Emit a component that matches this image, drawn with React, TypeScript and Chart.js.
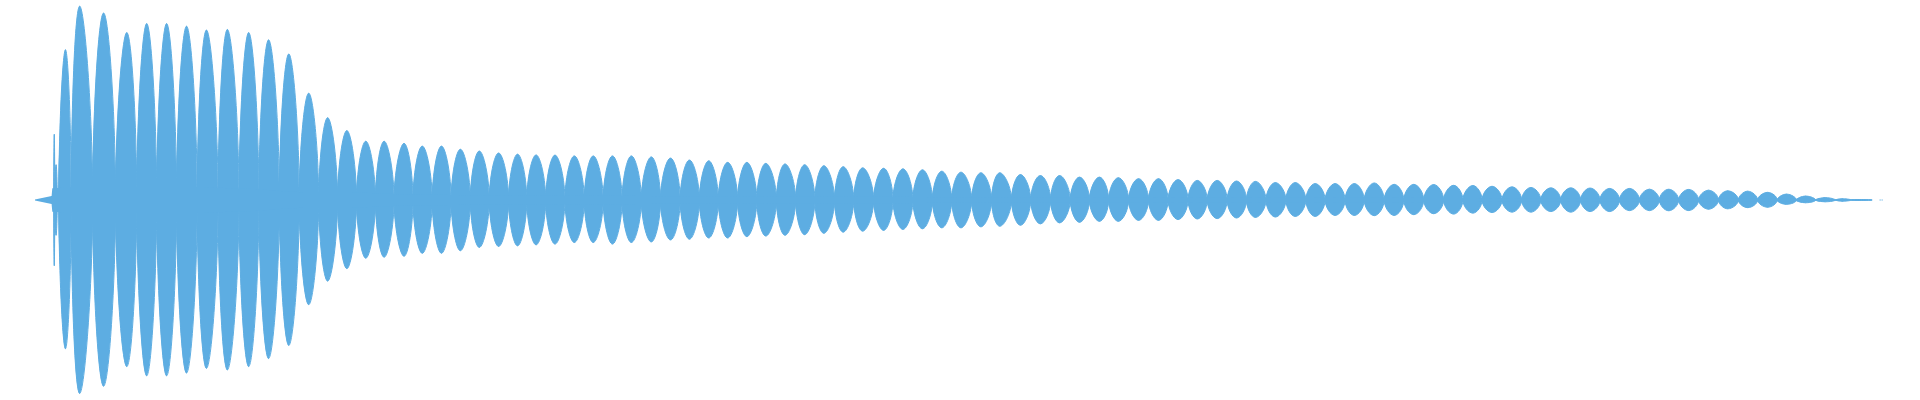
import React, { useEffect, useRef } from "react";
import { Chart, registerables } from "chart.js";

Chart.register(...registerables);

const COLOR = "#5DADE2";

// Thin central band (the waveform's thickness between lobes)
const bandX = [31, 47.8, 48.5, 60, 200, 256, 280, 300, 350, 392, 450, 640, 850, 1050, 1250, 1450, 1650, 1800, 1840, 1876];
const bandHalf = [0.003, 0.02, 0.06, 0.065, 0.065, 0.055, 0.045, 0.04, 0.04, 0.03, 0.025, 0.02, 0.016, 0.013, 0.011, 0.01, 0.009, 0.006, 0.004, 0.002];

// Lobe edges (zero crossings of the envelope) along the time axis
const edgeX = [
  50, 51, 53.5, 55,
  67.5, 89, 112, 133.3, 153.3, 173.3, 194, 215, 236, 256,
  276.5, 296.5, 316, 335, 354, 373, 391.7, 410.7, 430, 449,
  468.3, 487.3, 506.7, 525, 544, 563.3, 582.7, 601.7, 620.7, 640,
  659.3, 679, 698.3, 717.3, 736.7, 756, 775.7, 795, 814.3, 834,
  853.3, 873.3, 892.7, 912.7, 932.3, 951.7, 971.7, 991.7, 1011.7, 1031,
  1051, 1070.7, 1090, 1109.3, 1129.3, 1149.3, 1169, 1189, 1208.3, 1228.3,
  1247.7, 1267.3, 1287.3, 1307.3, 1326.7, 1346.7, 1366, 1386, 1405.7, 1425.7,
  1445.7, 1465, 1484.3, 1504.3, 1524, 1543.3, 1563.3, 1583.3, 1602.7, 1622.3,
  1642.3, 1662.3, 1681.7, 1701.7, 1721.7, 1741.7, 1761, 1780.7, 1800, 1819.3,
  1839, 1855, 1876,
];

// Each lobe: position of its peak, upper peak value and lower peak magnitude
const peakX = [
  50.5, 52.3, 54.2,
  61.7, 76, 100, 123.3, 143.3, 163.3, 183.3, 203.3, 224.3, 245.7,
  265.7, 286, 306, 325, 344.3, 363.3, 381.7, 401.7, 420, 439.3,
  458.3, 477.3, 496.7, 515.7, 534.3, 553.3, 572.7, 591.7, 611, 630,
  650, 669.3, 688.3, 707.7, 726.7, 746, 765, 784.3, 804, 823.3,
  842.7, 862.3, 883.3, 902.7, 922.3, 941.7, 961, 981, 1000, 1020.7,
  1040.7, 1060, 1080, 1100, 1119, 1139.3, 1159.3, 1179, 1198.3, 1218.3,
  1237.7, 1256.7, 1276.7, 1296.7, 1316.7, 1336.7, 1356, 1376, 1396, 1415.7,
  1435.7, 1455.7, 1475, 1494.3, 1514.3, 1533.3, 1553.3, 1573.3, 1592.7, 1612.3,
  1632.3, 1652.3, 1671.7, 1691.7, 1711.7, 1731, 1751, 1771, 1790, 1809.3,
  1829.3, 1847, 1865,
];

const peakUp = [
  0.335, 0.18, 0.06,
  0.767, 0.989, 0.954, 0.854, 0.9, 0.9, 0.887, 0.867, 0.87, 0.854,
  0.817, 0.745, 0.545, 0.42, 0.354, 0.3, 0.3, 0.289, 0.275, 0.275,
  0.259, 0.25, 0.24, 0.234, 0.23, 0.229, 0.225, 0.225, 0.225, 0.225,
  0.22, 0.214, 0.204, 0.2, 0.192, 0.192, 0.187, 0.184, 0.18, 0.175,
  0.17, 0.164, 0.162, 0.159, 0.154, 0.147, 0.142, 0.139, 0.139, 0.13,
  0.125, 0.125, 0.117, 0.117, 0.114, 0.109, 0.109, 0.104, 0.1, 0.1,
  0.097, 0.095, 0.089, 0.089, 0.084, 0.084, 0.084, 0.087, 0.08, 0.08,
  0.079, 0.075, 0.074, 0.07, 0.067, 0.064, 0.062, 0.062, 0.061, 0.059,
  0.059, 0.055, 0.055, 0.054, 0.05, 0.047, 0.045, 0.039, 0.03, 0.02,
  0.012, 0.006, 0.0025,
];

const peakLow = [
  0.335, 0.18, 0.06,
  0.759, 0.987, 0.95, 0.85, 0.897, 0.897, 0.883, 0.859, 0.867, 0.85,
  0.809, 0.742, 0.534, 0.414, 0.35, 0.297, 0.292, 0.287, 0.272, 0.272,
  0.259, 0.242, 0.237, 0.234, 0.229, 0.225, 0.217, 0.217, 0.225, 0.217,
  0.214, 0.204, 0.2, 0.194, 0.194, 0.187, 0.184, 0.18, 0.177, 0.17,
  0.164, 0.159, 0.155, 0.15, 0.147, 0.142, 0.142, 0.137, 0.134, 0.129,
  0.122, 0.117, 0.114, 0.109, 0.109, 0.104, 0.104, 0.1, 0.097, 0.095,
  0.092, 0.089, 0.087, 0.084, 0.084, 0.079, 0.079, 0.08, 0.079, 0.075,
  0.07, 0.072, 0.067, 0.064, 0.062, 0.062, 0.059, 0.062, 0.059, 0.059,
  0.054, 0.054, 0.055, 0.054, 0.047, 0.045, 0.039, 0.037, 0.022, 0.014,
  0.009, 0.006, 0.0025,
];

// Isolated single-sample specks at the very end
const speckX = [1884, 1886];
const speckY = [0, 0];

type Pt = { x: number; y: number | null };

// Each lobe is one closed outline through its four extreme points
// (left edge, upper peak, right edge, lower peak); the library's spline closes it smoothly.
function buildLobes(): Pt[] {
  const pts: Pt[] = [];
  for (let i = 0; i < peakX.length; i++) {
    const L = { x: edgeX[i], y: 0 };
    const R = { x: edgeX[i + 1], y: 0 };
    const U = { x: peakX[i], y: peakUp[i] };
    const D = { x: peakX[i], y: -peakLow[i] };
    pts.push(D, L, U, R, D, L, U);
    if (i < peakX.length - 1) pts.push({ x: peakX[i], y: null });
  }
  return pts;
}

function buildBand(sign: number): Pt[] {
  return bandX.map((x, i) => ({ x, y: sign * bandHalf[i] }));
}

export default function App() {
  const ref = useRef<HTMLCanvasElement | null>(null);

  useEffect(() => {
    if (!ref.current) return;
    const chart = new Chart(ref.current, {
      type: "line",
      data: {
        datasets: [
          {
            label: "band+",
            data: buildBand(1) as any,
            borderColor: COLOR,
            backgroundColor: COLOR,
            borderWidth: 0,
            fill: "origin",
            tension: 0,
            pointRadius: 0,
          },
          {
            label: "band-",
            data: buildBand(-1) as any,
            borderColor: COLOR,
            backgroundColor: COLOR,
            borderWidth: 0,
            fill: "origin",
            tension: 0,
            pointRadius: 0,
          },
          {
            label: "lobes",
            data: buildLobes() as any,
            borderColor: COLOR,
            backgroundColor: COLOR,
            borderWidth: 1,
            fill: "shape",
            tension: 0.45,
            pointRadius: 0,
            spanGaps: false,
          } as any,
          {
            type: "scatter",
            label: "specks",
            data: speckX.map((x, i) => ({ x, y: speckY[i] })) as any,
            backgroundColor: COLOR,
            borderWidth: 0,
            pointStyle: "rect",
            pointRadius: 0.8,
            pointBorderWidth: 0,
          } as any,
        ],
      },
      options: {
        responsive: false,
        animation: false,
        layout: { padding: 0 },
        events: [],
        plugins: {
          legend: { display: false },
          tooltip: { enabled: false },
        },
        scales: {
          x: { type: "linear", min: 0, max: 1920, display: false },
          y: { type: "linear", min: -1, max: 1, display: false },
        },
      },
    });
    return () => chart.destroy();
  }, []);

  return (
    <div style={{ position: "absolute", left: 0, top: 0, width: 1920, height: 400, background: "#fff" }}>
      <canvas ref={ref} width={1920} height={400} style={{ display: "block" }} />
    </div>
  );
}
